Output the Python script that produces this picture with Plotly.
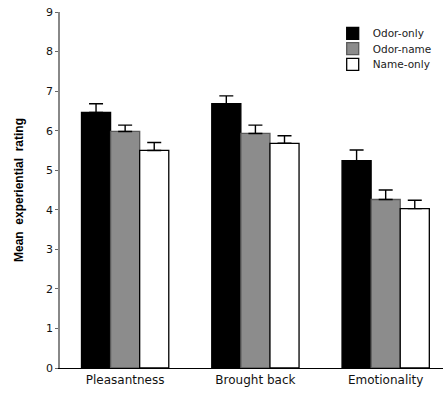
import plotly.graph_objects as go

categories = ["Pleasantness", "Brought back", "Emotionality"]
series_names = ["Odor-only", "Odor-name", "Name-only"]
odor_only = [6.46, 6.68, 5.24]
odor_only_err = [0.22, 0.20, 0.27]
odor_name = [5.98, 5.93, 4.26]
odor_name_err = [0.16, 0.21, 0.24]
name_only = [5.50, 5.68, 4.03]
name_only_err = [0.20, 0.19, 0.21]
y_ticks = [0, 1, 2, 3, 4, 5, 6, 7, 8, 9]

values = [odor_only, odor_name, name_only]
errors = [odor_only_err, odor_name_err, name_only_err]
fills = ["#000000", "#8c8c8c", "#ffffff"]
outlines = ["#000000", "#5a5a5a", "#000000"]
legend_ids = ["legend", "legend2", "legend3"]
legend_y = [0.940, 0.897, 0.853]

fig = go.Figure()
for name, vals, errs, fc, lc, lg in zip(series_names, values, errors, fills, outlines, legend_ids):
    fig.add_trace(go.Bar(
        x=categories, y=vals, name=name, legend=lg, showlegend=True,
        marker=dict(color=fc, line=dict(color=lc, width=1.3)),
        error_y=dict(type="data", array=errs, arrayminus=[0] * len(errs),
                     symmetric=False, color="#000000", thickness=1.4, width=7),
    ))

legend_style = dict(x=0.712, xanchor="left", yanchor="middle", visible=True,
                    font=dict(size=10.5, family="DejaVu Sans", color="#222222"),
                    bgcolor="rgba(0,0,0,0)")
legends = {lg: dict(y=ly, **legend_style) for lg, ly in zip(legend_ids, legend_y)}

fig.update_layout(
    width=443, height=396,
    showlegend=True,
    margin=dict(l=60, r=0, t=12, b=28, autoexpand=False),
    paper_bgcolor="white", plot_bgcolor="white",
    barmode="group", bargap=0.33, bargroupgap=0,
    font=dict(family="DejaVu Sans", color="#111111"),
    xaxis=dict(range=[-0.5, 2.44], showline=True, linecolor="#000000", linewidth=1.4,
               ticks="", tickfont=dict(size=12), showgrid=False, zeroline=False,
               automargin=False),
    yaxis=dict(range=[0, 9], tickvals=y_ticks, showline=True, linecolor="#888888",
               linewidth=1.6, ticks="outside", ticklen=3, tickcolor="#666666",
               tickwidth=1.2, tickfont=dict(size=11), showgrid=False, zeroline=False,
               automargin=False,
               title=dict(text="Mean\u00a0\u00a0experiential\u00a0\u00a0rating",
                          font=dict(size=12, family="Liberation Sans", weight="bold",
                                    color="#000000"),
                          standoff=20)),
    **legends,
)

fig.write_html("out.html", config={"displayModeBar": False},
               post_script="document.body.style.margin='0';")
